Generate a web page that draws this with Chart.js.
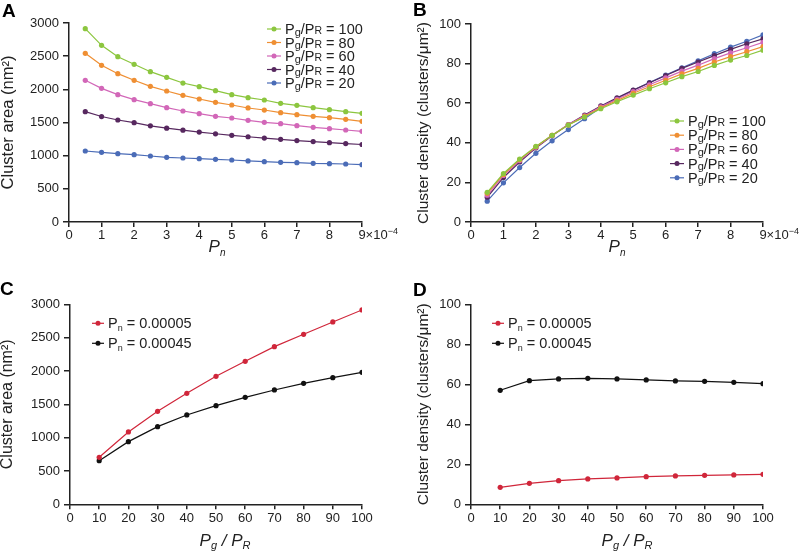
<!DOCTYPE html>
<html lang="en">
<head>
    <meta charset="UTF-8">
    <title>Cluster area and density</title>
    <script src="https://cdn.jsdelivr.net/npm/chart.js"></script>
    <style>
        body {
            margin: 0;
            padding: 0;
            background: white;
        }
        .panel {
            position: absolute;
            width: 400px;
            height: 277px;
        }
    </style>
</head>
<body>
    <div class="panel" style="left:0;top:0"><canvas id="chartA" width="400" height="277"></canvas></div>
    <div class="panel" style="left:400px;top:0"><canvas id="chartB" width="400" height="277"></canvas></div>
    <div class="panel" style="left:0;top:277px"><canvas id="chartC" width="400" height="277"></canvas></div>
    <div class="panel" style="left:400px;top:277px"><canvas id="chartD" width="400" height="277"></canvas></div>

    <script>
        // P_n values (in units of 10^-4)
        var pnValues = [0.5, 1, 1.5, 2, 2.5, 3, 3.5, 4, 4.5, 5, 5.5, 6, 6.5, 7, 7.5, 8, 8.5, 9];
        var ratioLabels = ['100', '80', '60', '40', '20'];
        var ratioColors = ['#8cc63f', '#ef8f33', '#d267b8', '#57285f', '#4b6cb7'];

        // A: cluster area vs Pn
        var areaR100 = [2915, 2663, 2492, 2377, 2266, 2181, 2095, 2040, 1980, 1920, 1874, 1839, 1789, 1759, 1724, 1693, 1663, 1638];
        var areaR80 = [2543, 2362, 2236, 2136, 2045, 1975, 1910, 1854, 1804, 1764, 1719, 1688, 1648, 1618, 1593, 1573, 1548, 1518];
        var areaR60 = [2136, 2015, 1920, 1844, 1784, 1724, 1673, 1633, 1593, 1568, 1533, 1502, 1482, 1452, 1427, 1407, 1387, 1367];
        var areaR40 = [1663, 1590, 1538, 1497, 1450, 1415, 1385, 1355, 1330, 1307, 1285, 1265, 1247, 1228, 1212, 1196, 1182, 1168];
        var areaR20 = [1070, 1050, 1030, 1015, 995, 975, 965, 955, 945, 935, 920, 910, 900, 895, 884, 879, 874, 864];

        // B: cluster density vs Pn
        var densR100 = [15, 24.5, 31.8, 38.2, 43.8, 49, 53, 57.2, 60.7, 64.1, 67.3, 70.3, 73.4, 76, 79.1, 81.8, 84.1, 86.8];
        var densR80 = [14.5, 24, 31.5, 38, 43.8, 49, 53.3, 57.7, 61.3, 65, 68.3, 71.6, 74.8, 77.6, 80.8, 83.5, 86, 88.6];
        var densR60 = [13.5, 23.5, 31, 37.8, 43.8, 49.2, 53.6, 58.2, 62, 65.8, 69.3, 72.8, 76.2, 79.2, 82.5, 85.4, 88, 90.7];
        var densR40 = [12.5, 22.5, 30.3, 37.4, 43.6, 49.2, 54, 58.6, 62.7, 66.6, 70.3, 74, 77.6, 80.8, 84, 87.2, 90, 92.5];
        var densR20 = [10.5, 19.8, 27.5, 34.7, 41, 46.7, 52.2, 57.8, 62.4, 66.5, 70.4, 74.2, 77.9, 81.4, 85, 88.3, 91.3, 94.5];

        // C, D: vs Pg/PR
        var ratioValues = [10, 20, 30, 40, 50, 60, 70, 80, 90, 100];
        var pnLabels = ['0.00005', '0.00045'];
        var pnColors = ['#d0263a', '#111111'];
        var areaPnLow = [705, 1085, 1395, 1665, 1920, 2145, 2365, 2550, 2735, 2915];
        var areaPnHigh = [655, 940, 1165, 1340, 1480, 1605, 1715, 1815, 1900, 1980];
        var densPnLow = [8.5, 10.5, 11.8, 12.7, 13.2, 13.8, 14.2, 14.5, 14.7, 15];
        var densPnHigh = [57, 61.8, 62.7, 63, 62.7, 62.2, 61.7, 61.5, 61, 60.3];

        var FONT = '"Liberation Sans", Arial, sans-serif';
        var INK = '#222';

        function points(xs, ys) {
            return xs.map(function(x, i) { return { x: x, y: ys[i] }; });
        }

        function series(xs, ys, color) {
            return {
                data: points(xs, ys),
                borderColor: color,
                backgroundColor: color,
                borderWidth: 1.2,
                pointRadius: 2.6,
                pointBorderWidth: 0,
                pointHoverRadius: 2.6
            };
        }

        // draw text pieces with different sizes / offsets (subscripts)
        function runsWidth(ctx, runs) {
            var w = 0;
            runs.forEach(function(r) {
                ctx.font = (r[3] ? 'italic ' : '') + r[1] + 'px ' + FONT;
                w += ctx.measureText(r[0]).width;
            });
            return w;
        }
        function drawRuns(ctx, runs, x, y) {
            ctx.textAlign = 'left';
            ctx.textBaseline = 'alphabetic';
            runs.forEach(function(r) {
                ctx.font = (r[3] ? 'italic ' : '') + r[1] + 'px ' + FONT;
                ctx.fillText(r[0], x, y + r[2]);
                x += ctx.measureText(r[0]).width;
            });
        }

        var deco = {
            id: 'deco',
            afterDraw: function(chart, args, o) {
                var ctx = chart.ctx;
                ctx.save();
                ctx.fillStyle = '#000';
                ctx.font = 'bold 19px ' + FONT;
                ctx.textAlign = 'left';
                ctx.textBaseline = 'alphabetic';
                ctx.fillText(o.letter, o.letterX, o.letterY);

                // legend
                chart.data.datasets.forEach(function(ds, i) {
                    var y = o.legY + i * o.legGap;
                    ctx.strokeStyle = ds.borderColor;
                    ctx.lineWidth = 1.2;
                    ctx.beginPath();
                    ctx.moveTo(o.legX, y);
                    ctx.lineTo(o.legX + o.legLen, y);
                    ctx.stroke();
                    ctx.fillStyle = ds.borderColor;
                    ctx.beginPath();
                    ctx.arc(o.legX + o.legLen / 2, y, 2.5, 0, Math.PI * 2);
                    ctx.fill();
                    ctx.fillStyle = INK;
                    drawRuns(ctx, o.legendRuns(i), o.legX + o.legLen + 4, y + 5);
                });

                // x axis title
                ctx.fillStyle = INK;
                var w = runsWidth(ctx, o.xTitle);
                drawRuns(ctx, o.xTitle, o.xTitleX - w / 2, o.xTitleY);

                // x10^-4 after the last tick
                if (o.exponent) {
                    var xs = chart.scales.x;
                    var items = xs.getLabelItems();
                    var last = items[items.length - 1];
                    ctx.font = '13px ' + FONT;
                    var x0 = last.options.translation[0] + ctx.measureText(String(last.label)).width / 2;
                    ctx.textBaseline = last.options.textBaseline;
                    ctx.textAlign = 'left';
                    var ty = last.options.translation[1] + last.textOffset;
                    ctx.fillText('×10', x0, ty);
                    var x1 = x0 + ctx.measureText('×10').width;
                    ctx.font = '9px ' + FONT;
                    ctx.fillText('−4', x1, ty - 4);
                }
                ctx.restore();
            }
        };

        function plain(v) { return String(v); }

        function makeChart(id, datasets, cfg) {
            return new Chart(document.getElementById(id), {
                type: 'line',
                data: { datasets: datasets },
                options: {
                    responsive: false,
                    animation: false,
                    layout: { padding: cfg.padding },
                    plugins: {
                        legend: { display: false },
                        tooltip: { enabled: false },
                        deco: cfg.deco
                    },
                    scales: {
                        x: {
                            type: 'linear',
                            min: 0,
                            max: cfg.xMax,
                            afterFit: function(s) { s.height = cfg.xHeight; },
                            ticks: { stepSize: cfg.xStep, color: INK, padding: 1, callback: plain, font: { family: FONT, size: 13 } },
                            grid: { drawOnChartArea: false, color: INK, lineWidth: 1.5, tickLength: 5 },
                            border: { color: INK, width: 1.5 }
                        },
                        y: {
                            min: 0,
                            max: cfg.yMax,
                            afterFit: function(s) { s.width = cfg.yWidth; },
                            ticks: { stepSize: cfg.yStep, color: INK, padding: 4, callback: plain, font: { family: FONT, size: 13 } },
                            grid: { drawOnChartArea: false, color: INK, lineWidth: 1.5, tickLength: 6 },
                            border: { color: INK, width: 1.5 },
                            title: {
                                display: true,
                                text: cfg.yTitle,
                                color: INK,
                                padding: 0,
                                font: { family: FONT, size: cfg.yTitleSize, lineHeight: 1 }
                            }
                        }
                    }
                },
                plugins: [deco]
            });
        }

        function ratioRuns(i) {
            return [['P', 14.5, 0], ['g', 11, 1.5], ['/P', 14.5, 0], ['R', 10.5, 0], [' = ' + ratioLabels[i], 14.5, 0]];
        }
        function pnRuns(i) {
            return [['P', 14.5, 0], ['n', 9, 3], [' = ' + pnLabels[i], 14.5, 0]];
        }
        var pnTitle = [['P', 17, 0, true], ['n', 10, 4, true]];
        var ratioTitle = [['P', 17, 0, true], ['g', 11, 3, true], [' / ', 17, 0, true], ['P', 17, 0, true], ['R', 11, 3, true]];

        var areaSets = [areaR100, areaR80, areaR60, areaR40, areaR20];
        var densSets = [densR100, densR80, densR60, densR40, densR20];

        makeChart('chartA', areaSets.map(function(ys, i) { return series(pnValues, ys, ratioColors[i]); }), {
            padding: { left: 0, top: 23, right: 38, bottom: 0 },
            yWidth: 69, xHeight: 55, xMax: 9, xStep: 1, yMax: 3000, yStep: 500,
            yTitle: 'Cluster area (nm²)', yTitleSize: 16.5,
            deco: { letter: 'A', letterX: 2, letterY: 17, legX: 267, legY: 29, legGap: 13.5, legLen: 14,
                    legendRuns: ratioRuns, xTitle: pnTitle, xTitleX: 217, xTitleY: 252, exponent: true }
        });

        makeChart('chartB', densSets.map(function(ys, i) { return series(pnValues, ys, ratioColors[i]); }), {
            padding: { left: 15.5, top: 24, right: 37, bottom: 0 },
            yWidth: 55.5, xHeight: 55, xMax: 9, xStep: 1, yMax: 100, yStep: 20,
            yTitle: 'Cluster density (clusters/μm²)', yTitleSize: 15.5,
            deco: { letter: 'B', letterX: 13, letterY: 15.5, legX: 270, legY: 121, legGap: 14.2, legLen: 14,
                    legendRuns: ratioRuns, xTitle: pnTitle, xTitleX: 217, xTitleY: 252, exponent: true }
        });

        makeChart('chartC', [series(ratioValues, areaPnLow, pnColors[0]), series(ratioValues, areaPnHigh, pnColors[1])], {
            padding: { left: 0, top: 27.3, right: 38, bottom: 0 },
            yWidth: 70, xHeight: 49.7, xMax: 100, xStep: 10, yMax: 3000, yStep: 500,
            yTitle: 'Cluster area (nm²)', yTitleSize: 16,
            deco: { letter: 'C', letterX: 0, letterY: 18, legX: 92, legY: 46.3, legGap: 20, legLen: 12,
                    legendRuns: pnRuns, xTitle: ratioTitle, xTitleX: 225, xTitleY: 269 }
        });

        makeChart('chartD', [series(ratioValues, densPnLow, pnColors[0]), series(ratioValues, densPnHigh, pnColors[1])], {
            padding: { left: 15.5, top: 27.3, right: 37, bottom: 0 },
            yWidth: 55.5, xHeight: 49.7, xMax: 100, xStep: 10, yMax: 100, yStep: 20,
            yTitle: 'Cluster density (clusters/μm²)', yTitleSize: 15.5,
            deco: { letter: 'D', letterX: 13, letterY: 19, legX: 92, legY: 46.3, legGap: 20, legLen: 12,
                    legendRuns: pnRuns, xTitle: ratioTitle, xTitleX: 227, xTitleY: 269 }
        });
    </script>
</body>
</html>
